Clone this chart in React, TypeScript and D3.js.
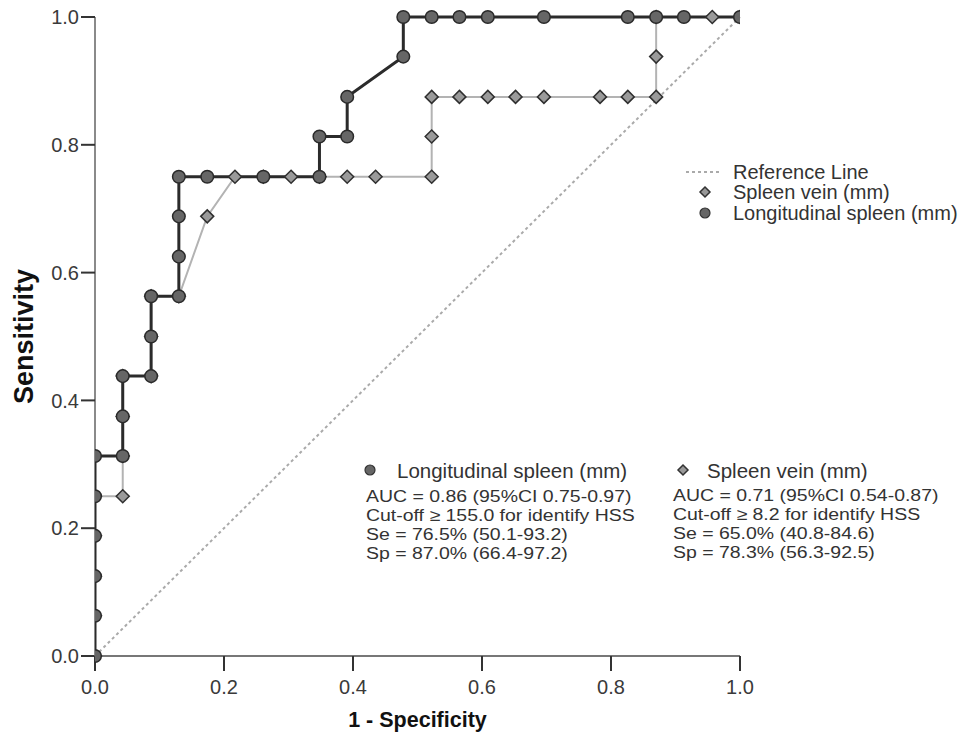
import React from "react"
import { scaleLinear, line, curveLinear } from "d3"

// false positive rate (1 - specificity) and sensitivity
const longFpr = [0, 0, 0, 0, 0, 0, 0.043, 0.043, 0.043, 0.087, 0.087, 0.087, 0.13, 0.13, 0.13, 0.13, 0.174, 0.261, 0.348, 0.348, 0.391, 0.391, 0.478, 0.478, 0.522, 0.565, 0.609, 0.696, 0.826, 0.87, 0.913, 1]
const longTpr = [0, 0.063, 0.125, 0.188, 0.25, 0.313, 0.313, 0.375, 0.438, 0.438, 0.5, 0.563, 0.563, 0.625, 0.688, 0.75, 0.75, 0.75, 0.75, 0.813, 0.813, 0.875, 0.938, 1, 1, 1, 1, 1, 1, 1, 1, 1]

const veinFpr = [0, 0, 0, 0, 0, 0.043, 0.043, 0.043, 0.043, 0.087, 0.087, 0.087, 0.13, 0.174, 0.217, 0.261, 0.304, 0.348, 0.391, 0.435, 0.522, 0.522, 0.522, 0.565, 0.609, 0.652, 0.696, 0.783, 0.826, 0.87, 0.87, 0.87, 0.957, 1]
const veinTpr = [0, 0.063, 0.125, 0.188, 0.25, 0.25, 0.313, 0.375, 0.438, 0.438, 0.5, 0.563, 0.563, 0.688, 0.75, 0.75, 0.75, 0.75, 0.75, 0.75, 0.75, 0.813, 0.875, 0.875, 0.875, 0.875, 0.875, 0.875, 0.875, 0.875, 0.938, 1, 1, 1]

const ticks = [0, 0.2, 0.4, 0.6, 0.8, 1.0]

const legendLabels = ["Reference Line", "Spleen vein (mm)", "Longitudinal spleen (mm)"]

const longStats = [
  "AUC = 0.86 (95%CI 0.75-0.97)",
  "Cut-off ≥ 155.0 for identify HSS",
  "Se = 76.5% (50.1-93.2)",
  "Sp = 87.0% (66.4-97.2)",
]
const veinStats = [
  "AUC = 0.71 (95%CI 0.54-0.87)",
  "Cut-off ≥ 8.2 for identify HSS",
  "Se = 65.0% (40.8-84.6)",
  "Sp = 78.3% (56.3-92.5)",
]

const width = 970
const height = 741
const margin = { left: 95, top: 17, right: 230, bottom: 85 }
const font = "'Liberation Sans', Arial, sans-serif"

const diamond = (cx: number, cy: number, r: number) =>
  `M${cx},${cy - r}L${cx + r},${cy}L${cx},${cy + r}L${cx - r},${cy}Z`

// stats lines: tight line spacing, so a smaller font stretched sideways
const StatLines = ({ lines, left, top }: { lines: string[]; left: number; top: number }) => (
  <>
    {lines.map((s, i) => (
      <text
        key={s}
        transform={`translate(${left}, ${top + i * 19}) scale(1.18, 1)`}
        dy="0.36em"
        fontSize={16.5}
      >
        {s}
      </text>
    ))}
  </>
)

const App = () => {
  const x = scaleLinear().domain([0, 1]).range([margin.left, width - margin.right])
  const y = scaleLinear().domain([0, 1]).range([height - margin.bottom, margin.top])

  const longPts = longFpr.map((f, i) => [f, longTpr[i]] as [number, number])
  const veinPts = veinFpr.map((f, i) => [f, veinTpr[i]] as [number, number])

  const path = line<[number, number]>()
    .x((d) => x(d[0]))
    .y((d) => y(d[1]))
    .curve(curveLinear)

  const x0 = x(0)
  const x1 = x(1)
  const yb = y(0)

  return (
    <svg
      width={width}
      height={height}
      style={{ position: "absolute", left: 0, top: 0, background: "#fff" }}
      fontFamily={font}
    >
      <defs>
        <clipPath id="plot">
          <rect x={x0} y={0} width={x1 - x0} height={height} />
        </clipPath>
      </defs>

      {/* axes */}
      <line x1={x0} x2={x0} y1={y(1)} y2={yb} stroke="#8a8a8a" strokeWidth={2} />
      <line x1={x0} x2={x1} y1={yb} y2={yb} stroke="#777" strokeWidth={2} />
      {ticks.map((t) => (
        <g key={"y" + t}>
          <line x1={x0 - 14} x2={x0} y1={y(t)} y2={y(t)} stroke="#333" strokeWidth={2} />
          <text x={x0 - 16} y={y(t)} dy="0.36em" textAnchor="end" fontSize={20} fill="#3a3a3a">
            {t.toFixed(1)}
          </text>
        </g>
      ))}
      {ticks.map((t) => (
        <g key={"x" + t}>
          <line x1={x(t)} x2={x(t)} y1={yb} y2={yb + 15} stroke="#333" strokeWidth={2} />
          <text x={x(t)} y={yb + 38} textAnchor="middle" fontSize={20} fill="#3a3a3a">
            {t.toFixed(1)}
          </text>
        </g>
      ))}
      <text
        transform={`translate(33, ${(y(0) + y(1)) / 2}) rotate(-90)`}
        textAnchor="middle"
        fontSize={27}
        fontWeight="bold"
        fill="#111"
      >
        Sensitivity
      </text>
      <text x={(x0 + x1) / 2} y={727} textAnchor="middle" fontSize={21.5} fontWeight="bold" fill="#111">
        1 - Specificity
      </text>

      {/* reference diagonal */}
      <line x1={x0} y1={yb} x2={x1} y2={y(1)} stroke="#aaa" strokeWidth={2} strokeDasharray="3,3" />

      <g clipPath="url(#plot)">
        <path d={path(veinPts) || ""} fill="none" stroke="#b3b3b3" strokeWidth={2} />
        <path d={path(longPts) || ""} fill="none" stroke="#2b2b2b" strokeWidth={3} />
        {veinPts.map((d, i) => (
          <path key={"v" + i} d={diamond(x(d[0]), y(d[1]), 6.5)} fill="#9a9a9a" stroke="#2f2f2f" strokeWidth={1.5} />
        ))}
        {longPts.map((d, i) => (
          <circle key={"l" + i} cx={x(d[0])} cy={y(d[1])} r={6.3} fill="#666" stroke="#2a2a2a" strokeWidth={1.5} />
        ))}
      </g>

      {/* legend */}
      <g fontSize={20} fill="#333">
        <line x1={686} x2={720} y1={172} y2={172} stroke="#aaa" strokeWidth={2} strokeDasharray="3,3" />
        <text x={733} y={172} dy="0.36em">{legendLabels[0]}</text>
        <path d={diamond(705, 192, 5)} fill="#999" stroke="#333" strokeWidth={1.5} />
        <text x={733} y={192} dy="0.36em">{legendLabels[1]}</text>
        <circle cx={705} cy={213} r={5} fill="#666" stroke="#333" strokeWidth={1.2} />
        <text x={733} y={213} dy="0.36em">{legendLabels[2]}</text>
      </g>

      {/* annotation blocks */}
      <g fill="#333">
        <circle cx={370} cy={470} r={5} fill="#666" stroke="#333" strokeWidth={1.2} />
        <text x={397} y={471} dy="0.36em" fontSize={20.5}>{legendLabels[2]}</text>
        <StatLines lines={longStats} left={366} top={496} />
        <path d={diamond(683, 470, 5)} fill="#999" stroke="#333" strokeWidth={1.5} />
        <text x={707} y={471} dy="0.36em" fontSize={20.5}>{legendLabels[1]}</text>
        <StatLines lines={veinStats} left={673} top={495} />
      </g>
    </svg>
  )
}

export default App
